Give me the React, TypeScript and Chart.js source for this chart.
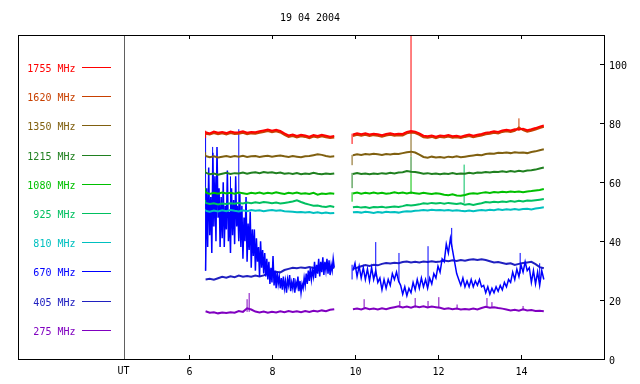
import React, { useEffect, useRef } from "react";
import { Chart, registerables } from "chart.js";
Chart.register(...registerables);

// ---- chart text / axes ----
const TITLE = "19 04 2004";
const X_TICKS = [6, 8, 10, 12, 14];
const Y_TICKS = [0, 20, 40, 60, 80, 100];
const X_MIN = 1.88;
const X_MAX = 16.0;
const Y_MIN = 0;
const Y_MAX = 110;
const UT_HOUR = 4.43;
const UT_LABEL = "UT";

// ---- bands (top to bottom in the key) ----
const BANDS = ["1755 MHz", "1620 MHz", "1350 MHz", "1215 MHz", "1080 MHz", "925 MHz", "810 MHz", "670 MHz", "405 MHz", "275 MHz"];
const COLORS = ["#ff0000", "#c84000", "#806010", "#208020", "#00c000", "#00c060", "#00c0c0", "#0000ff", "#2020c0", "#8000c0"];

// ---- sampling of the two observing segments (UT hours) ----
const SEG_A_START = 6.4;
const SEG_B_START = 9.95;
const STEP_COARSE = 0.1;
const STEP_670_A = 0.025;
const STEP_670_B = 0.05;

// ---- flux values (coarse step) ----
const F1755_A = [77.0, 76.6, 77.2, 76.8, 77.1, 76.7, 77.2, 76.9, 77.0, 77.3, 76.8, 77.1, 77.0, 77.3, 77.6, 77.9, 77.5, 77.8, 77.4, 76.6, 75.9, 76.2, 75.7, 76.1, 75.9, 75.5, 76.0, 75.7, 76.1, 75.8, 75.5, 75.7];
const F1755_B = [76.2, 76.6, 76.3, 76.6, 76.2, 76.5, 76.3, 76.0, 76.4, 76.6, 76.3, 76.5, 76.4, 77.1, 77.4, 77.2, 76.6, 75.8, 75.6, 75.9, 75.5, 75.9, 75.7, 76.0, 75.6, 75.8, 75.5, 75.9, 76.2, 75.8, 76.1, 76.4, 76.8, 77.0, 77.3, 77.1, 77.6, 77.8, 77.6, 78.0, 77.9, 78.2, 77.7, 78.0, 78.4, 78.9, 79.3];

const F1620_A = [76.5, 76.2, 76.7, 76.3, 76.6, 76.2, 76.7, 76.4, 76.5, 76.8, 76.3, 76.6, 76.5, 76.8, 77.1, 77.4, 77.0, 77.3, 76.9, 76.1, 75.4, 75.7, 75.2, 75.6, 75.4, 75.0, 75.5, 75.2, 75.6, 75.3, 75.0, 75.2];
const F1620_B = [75.7, 76.1, 75.8, 76.1, 75.7, 76.0, 75.8, 75.5, 75.9, 76.1, 75.8, 76.0, 75.9, 76.6, 76.9, 76.7, 76.1, 75.3, 75.1, 75.4, 75.0, 75.4, 75.2, 75.5, 75.1, 75.3, 75.0, 75.4, 75.7, 75.3, 75.6, 75.9, 76.3, 76.5, 76.8, 76.6, 77.1, 77.3, 77.1, 77.5, 78.6, 77.7, 77.2, 77.5, 77.9, 78.4, 78.8];

const F1350_A = [68.9, 68.5, 68.8, 68.4, 68.7, 68.9, 68.6, 68.9, 68.7, 69.0, 68.6, 68.8, 68.9, 68.6, 68.8, 69.0, 68.7, 68.9, 69.1, 68.8, 68.6, 68.9, 68.7, 68.5, 68.8, 68.9, 69.2, 69.5, 69.3, 68.9, 68.7, 68.8];
const F1350_B = [69.2, 69.5, 69.3, 69.6, 69.4, 69.7, 69.5, 69.3, 69.6, 69.4, 69.7, 69.6, 69.9, 70.2, 70.4, 70.1, 69.4, 68.6, 68.3, 68.7, 68.4, 68.6, 68.3, 68.7, 68.5, 68.8, 68.5, 68.7, 68.9, 69.1, 69.3, 69.2, 69.6, 69.8, 69.7, 70.0, 69.9, 70.1, 69.9, 70.2, 70.0, 70.1, 69.9, 70.3, 70.5, 70.9, 71.2];

const F1215_A = [63.3, 62.7, 63.0, 62.6, 62.9, 63.2, 62.8, 63.1, 63.0, 63.3, 62.9, 63.2, 63.4, 63.1, 63.5, 63.2, 63.4, 63.1, 63.3, 62.9, 63.1, 62.8, 63.1, 62.7, 63.0, 62.8, 63.2, 62.9, 62.7, 63.0, 62.8, 63.0];
const F1215_B = [62.8, 63.1, 62.8, 63.0, 62.7, 63.0, 62.8, 63.1, 62.9, 63.2, 63.0, 63.3, 63.4, 63.8, 63.6, 63.5, 63.2, 62.9, 63.1, 62.8, 63.0, 62.7, 63.0, 62.8, 63.1, 62.8, 63.0, 62.9, 63.2, 63.0, 63.3, 63.2, 63.5, 63.3, 63.6, 63.5, 63.7, 63.5, 63.8, 63.6, 63.9, 63.7, 64.0, 64.1, 64.3, 64.7, 65.0];

const F1080_A = [56.6, 56.0, 56.4, 56.1, 56.5, 56.2, 56.4, 56.1, 56.5, 56.3, 56.0, 56.4, 56.2, 56.5, 56.1, 56.4, 56.2, 56.6, 56.3, 56.0, 56.4, 56.2, 56.5, 56.1, 56.3, 56.0, 56.4, 55.8, 56.2, 56.0, 56.3, 56.1];
const F1080_B = [56.2, 56.5, 56.1, 56.4, 56.2, 56.5, 56.2, 56.4, 56.1, 56.3, 56.6, 56.3, 56.5, 56.2, 56.5, 56.3, 56.1, 56.4, 56.2, 56.0, 56.3, 56.1, 55.8, 55.6, 55.9, 55.5, 55.4, 55.7, 56.1, 56.3, 56.1, 56.4, 56.6, 56.4, 56.7, 56.5, 56.8, 56.6, 56.9, 56.7, 56.9, 56.6, 56.9, 57.0, 57.2, 57.4, 57.7];

const F925_A = [53.0, 52.6, 52.9, 52.5, 52.8, 52.6, 52.9, 52.7, 53.0, 52.8, 53.1, 52.9, 53.2, 53.0, 53.3, 53.1, 52.9, 53.1, 52.8, 53.0, 53.2, 53.5, 53.9, 53.3, 52.8, 52.4, 52.0, 52.1, 51.8, 51.6, 51.9, 51.6];
const F925_B = [51.5, 51.7, 51.4, 51.6, 51.3, 51.6, 51.5, 51.7, 51.4, 51.6, 51.8, 51.6, 51.9, 52.3, 52.1, 52.3, 52.5, 52.9, 52.7, 53.0, 52.8, 53.0, 52.7, 53.0, 52.8, 52.6, 52.9, 52.4, 52.6, 52.3, 52.6, 52.9, 53.3, 53.1, 53.4, 53.2, 53.5, 53.3, 53.6, 53.4, 53.7, 53.5, 53.8, 53.7, 53.9, 54.1, 54.3];

const F810_A = [50.3, 50.0, 50.4, 50.1, 50.5, 50.2, 50.6, 50.3, 50.1, 50.5, 50.2, 50.6, 50.3, 50.5, 50.2, 50.4, 50.6, 50.3, 50.5, 50.2, 50.1, 50.0, 49.8, 49.9, 49.7, 49.9, 49.6, 49.8, 49.5, 49.7, 49.5, 49.6];
const F810_B = [49.8, 49.9, 49.7, 50.0, 49.8, 49.6, 49.9, 49.7, 50.0, 49.8, 49.9, 49.7, 50.0, 50.2, 50.1, 50.3, 50.4, 50.6, 50.4, 50.7, 50.5, 50.6, 50.4, 50.6, 50.3, 50.5, 50.3, 50.2, 50.4, 50.2, 50.4, 50.6, 50.4, 50.7, 50.5, 50.8, 50.6, 50.8, 50.7, 50.9, 50.7, 50.9, 51.0, 50.8, 51.1, 51.3, 51.5];

// 670 MHz is very noisy: finer steps
const F670_A = [
  30, 58, 38, 65, 42, 55, 36, 70, 45, 62, 40, 72, 48, 58, 38,
  55, 41, 60, 38, 52, 44, 64, 40, 50, 36, 58, 42, 54, 39, 62, 45, 52, 40, 56,
  38, 52, 34, 48, 40, 55, 33, 46, 37, 50, 31, 44,
  35, 44, 30, 41, 33, 38, 28, 40, 31, 37, 29, 36, 28, 34,
  27, 33, 25.5, 31, 26, 35, 25, 30, 24, 29.5, 25.5, 28, 24,
  27.5, 23.5, 28, 24, 26.5, 22.5, 27, 25, 28.5, 23, 26, 24, 27.5, 22.5, 26, 24.5, 28, 23, 26.5, 22.5, 25.5, 24, 27.5, 25,
  29, 25.5, 30, 26.5, 31, 27, 30, 28, 33, 27.5, 32, 29, 34, 28, 33, 29.5, 34.5, 28.5, 33, 30, 34, 29, 33.5, 28.5, 32, 30, 34, 31,
];
const F670_B = [30, 32.5, 28, 31.5, 27.5, 31, 27, 30.5, 26.5, 31, 27, 30, 26, 27.5, 23.5, 27, 24, 27, 25, 29, 27, 29.5, 26.5, 25, 22, 24.5, 21.5, 24, 22.5, 26, 23.5, 27, 24, 27.5, 24.5, 27, 24, 27.5, 25.5, 29, 27.5, 31.5, 29.5, 34, 33, 39, 36, 41, 37, 33, 29, 27, 25, 27.5, 24.5, 26.5, 24.5, 27, 24.5, 26.5, 25, 27, 24.5, 25, 22.5, 24.5, 22, 24, 22.5, 24.5, 23, 25, 23.5, 26, 24.5, 27, 26, 29.5, 27, 30.5, 28, 32, 29.5, 33, 30, 31, 26, 30, 25.5, 29.5, 25, 30, 27];

const F405_A = [27.0, 27.2, 26.9, 27.4, 27.9, 27.6, 28.1, 27.8, 28.3, 27.9, 28.2, 27.9, 28.3, 28.0, 28.4, 29.0, 29.3, 29.6, 29.4, 30.2, 30.6, 31.0, 30.8, 31.1, 30.9, 31.2, 30.9, 31.1, 30.8, 31.2, 30.9, 31.0];
const F405_B = [30.6, 31.0, 31.5, 31.9, 31.6, 32.0, 31.8, 32.3, 32.6, 32.4, 32.7, 32.5, 32.9, 33.1, 32.8, 33.0, 32.8, 33.1, 32.9, 33.2, 32.9, 33.1, 33.4, 33.2, 33.5, 33.3, 33.6, 33.4, 33.7, 33.9, 33.6, 33.9, 33.6, 33.2, 32.8, 32.9, 32.6, 32.3, 32.5, 31.9, 32.3, 32.6, 32.8, 33.0, 32.2, 31.2, 30.8];

const F275_A = [16.2, 15.7, 15.9, 15.5, 15.8, 15.6, 15.9, 15.7, 16.3, 16.0, 17.2, 16.8, 16.1, 15.8, 16.1, 15.7, 16.0, 15.8, 16.2, 15.9, 16.3, 16.0, 16.2, 15.9, 16.3, 16.0, 16.4, 16.1, 16.5, 16.2, 16.7, 16.9];
const F275_B = [16.9, 17.1, 16.8, 17.3, 16.9, 17.1, 16.8, 17.2, 16.9, 17.3, 17.6, 17.9, 17.5, 17.8, 17.4, 17.9, 17.6, 17.9, 17.5, 17.8, 17.6, 17.4, 17.0, 17.2, 16.9, 17.1, 16.8, 17.0, 16.8, 17.1, 16.8, 17.3, 17.7, 17.4, 17.6, 17.3, 17.1, 16.8, 16.5, 16.7, 16.4, 16.9, 16.5, 16.6, 16.3, 16.4, 16.2];

// ---- narrow spikes / segment-start jumps (band index, hour, low, high) ----
const SPIKE_BAND = [0, 2, 3, 4, 5, 6, 7, 0, 2, 3, 4, 7, 7, 7, 7, 7, 7, 7, 7, 7, 7, 0, 2, 3, 4, 5, 1, 9, 9, 9, 9, 9, 9, 9, 9, 9, 9, 9];
const SPIKE_HOUR = [6.4, 6.4, 6.4, 6.4, 6.4, 6.4, 6.4, 9.93, 9.93, 9.93, 9.93, 6.57, 7.0, 7.2, 10.5, 11.06, 11.76, 12.33, 13.98, 14.45, 9.93, 11.35, 11.35, 11.35, 11.35, 12.63, 13.95, 7.4, 7.45, 10.22, 11.08, 11.45, 11.76, 12.02, 12.46, 13.18, 13.3, 14.05];
const SPIKE_LOW = [75.0, 68.8, 63.0, 56.3, 52.8, 50.3, 30, 73.0, 65.8, 58.0, 53.4, 45, 40, 41, 28, 26, 25, 38, 29, 27, 27, 76.5, 68.8, 63.0, 56.0, 53, 77.5, 16, 16, 17, 17.5, 17.5, 17.5, 17.5, 17, 17.3, 17.3, 16.5];
const SPIKE_HIGH = [77.5, 70.2, 64.5, 58.2, 54.0, 50.8, 76, 76.5, 69.3, 63.2, 56.6, 72, 62, 78, 39.7, 36, 38.3, 44.5, 36, 32.5, 32, 115, 76.5, 68.8, 63.0, 66, 81.7, 20.3, 22.4, 20.3, 19.7, 20.7, 19.7, 21, 18.5, 20.7, 19.3, 18];

const SERIES_A = [F1755_A, F1620_A, F1350_A, F1215_A, F1080_A, F925_A, F810_A, F670_A, F405_A, F275_A];
const SERIES_B = [F1755_B, F1620_B, F1350_B, F1215_B, F1080_B, F925_B, F810_B, F670_B, F405_B, F275_B];

function buildSeries(a: number[], b: number[], stepA: number, stepB: number) {
  const pts: { x: number; y: number | null }[] = [];
  a.forEach((v, i) => pts.push({ x: SEG_A_START + i * stepA, y: v }));
  pts.push({ x: (SEG_A_START + (a.length - 1) * stepA + SEG_B_START) / 2, y: null });
  b.forEach((v, i) => pts.push({ x: SEG_B_START + i * stepB, y: v }));
  return pts;
}

function buildSpikes(band: number) {
  const pts: { x: number; y: number | null }[] = [];
  SPIKE_BAND.forEach((bi, i) => {
    if (bi !== band) return;
    pts.push({ x: SPIKE_HOUR[i], y: SPIKE_LOW[i] });
    pts.push({ x: SPIKE_HOUR[i], y: SPIKE_HIGH[i] });
    pts.push({ x: SPIKE_HOUR[i], y: null });
  });
  return pts;
}

const FONT = '10px "DejaVu Sans Mono"';

const framePlugin = {
  id: "frame",
  afterDraw(chart: any) {
    const ctx = chart.ctx;
    const a = chart.chartArea;
    const xs = chart.scales.x;
    const ys = chart.scales.y;
    ctx.save();
    ctx.lineWidth = 1;
    // UT line
    const ux = Math.round(xs.getPixelForValue(UT_HOUR)) + 0.5;
    ctx.strokeStyle = "#606060";
    ctx.beginPath();
    ctx.moveTo(ux, a.top);
    ctx.lineTo(ux, a.bottom);
    ctx.stroke();
    // frame
    ctx.strokeStyle = "#000000";
    ctx.strokeRect(Math.round(a.left) + 0.5, Math.round(a.top) + 0.5, Math.round(a.right - a.left), Math.round(a.bottom - a.top));
    ctx.font = FONT;
    ctx.fillStyle = "#000000";
    // x ticks
    ctx.textAlign = "center";
    ctx.textBaseline = "alphabetic";
    X_TICKS.forEach((t) => {
      const px = Math.round(xs.getPixelForValue(t)) + 0.5;
      ctx.beginPath();
      ctx.moveTo(px, a.bottom);
      ctx.lineTo(px, a.bottom - 4);
      ctx.moveTo(px, a.top);
      ctx.lineTo(px, a.top + 4);
      ctx.stroke();
      ctx.fillText(String(t), px, a.bottom + 16);
    });
    ctx.fillText(UT_LABEL, ux - 1, a.bottom + 15);
    // y ticks (right)
    ctx.textAlign = "left";
    Y_TICKS.forEach((t) => {
      const py = Math.round(ys.getPixelForValue(t)) + 0.5;
      ctx.beginPath();
      ctx.moveTo(a.right, py);
      ctx.lineTo(a.right - 4, py);
      ctx.stroke();
      ctx.fillText(String(t), a.right + 5, py + 4);
    });
    // title
    ctx.textAlign = "center";
    ctx.fillText(TITLE, 310, 21);
    // key
    BANDS.forEach((name, i) => {
      const y = Math.round(67 + i * 29.2) + 0.5;
      ctx.fillStyle = COLORS[i];
      ctx.strokeStyle = COLORS[i];
      ctx.textAlign = "right";
      ctx.fillText(name, 75.5, y + 4);
      ctx.beginPath();
      ctx.moveTo(82, y);
      ctx.lineTo(111, y);
      ctx.stroke();
    });
    ctx.restore();
  },
};

export default function App() {
  const ref = useRef<HTMLCanvasElement | null>(null);
  useEffect(() => {
    if (!ref.current) return;
    const datasets: any[] = [];
    BANDS.forEach((name, i) => {
      const fine = i === 7;
      datasets.push({
        label: name,
        data: buildSeries(SERIES_A[i], SERIES_B[i], fine ? STEP_670_A : STEP_COARSE, fine ? STEP_670_B : STEP_COARSE),
        borderColor: COLORS[i],
        backgroundColor: COLORS[i],
        borderWidth: fine ? 1.5 : 2,
        pointRadius: 0,
        tension: 0,
        spanGaps: false,
        order: i,
      });
    });
    BANDS.forEach((name, i) => {
      const pts = buildSpikes(i);
      if (!pts.length) return;
      datasets.push({
        label: name + " spikes",
        data: pts,
        borderColor: COLORS[i],
        borderWidth: 1,
        pointRadius: 0,
        tension: 0,
        spanGaps: false,
        order: i,
      });
    });
    const chart = new Chart(ref.current, {
      type: "line",
      data: { datasets },
      options: {
        responsive: false,
        animation: false,
        layout: { padding: { left: 18, top: 35, right: 36, bottom: 25 } },
        plugins: { legend: { display: false }, tooltip: { enabled: false }, title: { display: false } },
        scales: {
          x: { type: "linear", min: X_MIN, max: X_MAX, display: false },
          y: { type: "linear", min: Y_MIN, max: Y_MAX, display: false },
        },
      },
      plugins: [framePlugin],
    });
    return () => chart.destroy();
  }, []);
  return (
    <div style={{ position: "absolute", left: 0, top: 0, width: 640, height: 384, background: "#ffffff" }}>
      <canvas ref={ref} width={640} height={384} style={{ display: "block" }} />
    </div>
  );
}
